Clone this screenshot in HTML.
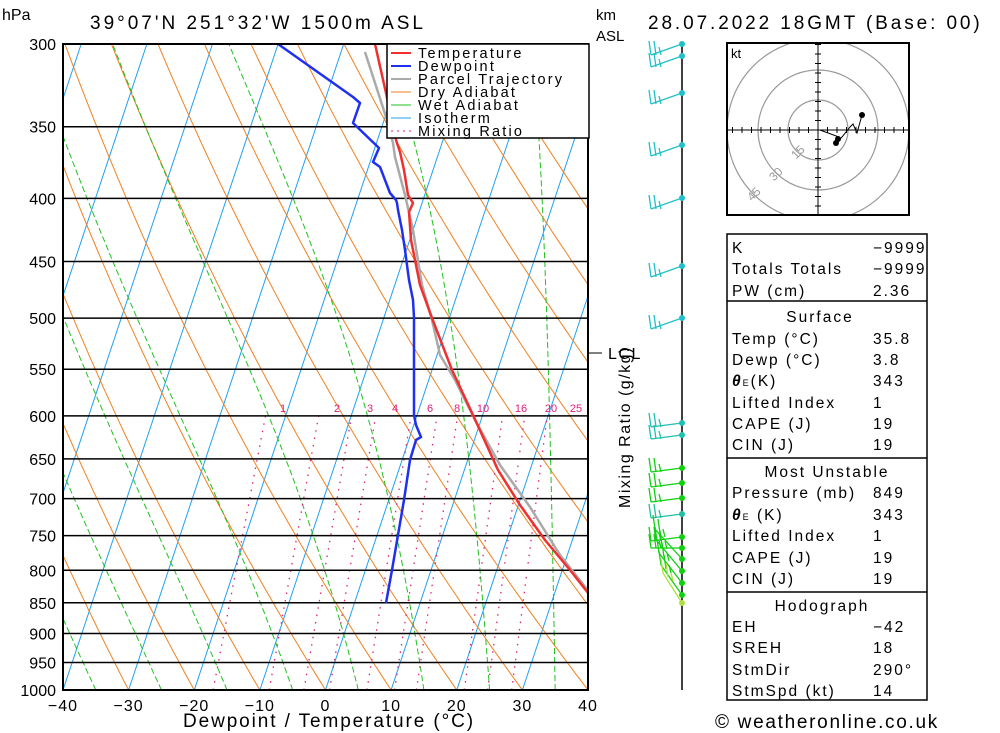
<!DOCTYPE html>
<html><head><meta charset="utf-8"><style>
html,body{margin:0;padding:0;background:#fff;}
svg{display:block;font-family:"Liberation Sans",sans-serif;}
</style></head><body>
<svg id="s" width="1000" height="733" viewBox="0 0 1000 733" xmlns="http://www.w3.org/2000/svg">
<defs><clipPath id="pc"><rect x="63" y="44" width="525" height="646"/></clipPath>
<clipPath id="hc"><rect x="728" y="44" width="180" height="170"/></clipPath></defs>
<g id="bg" clip-path="url(#pc)"></g>
<g id="grid"></g>
<g id="prof" clip-path="url(#pc)" fill="none" stroke-linejoin="round">
<polyline stroke="#aaa" stroke-width="2.5" points="590,593 560,555 530,507 500,465 475,420 455,380 440,355 432,320 422,285 413,230 405,195 395,157 393,143 387,120 365,52"/>
<polyline stroke="#f03030" stroke-width="2.5" points="592,598 570,570 545,540 520,505 498,470 473,415 452,370 432,318 420,285 411,240 409,212 413,203 408,195 404,170 400,152 396,140 386,93 375,44"/>
<polyline stroke="#2030f0" stroke-width="2.5" points="386,603 392,570 398,535 404,500 410,460 416,440 421,437 416,425 414,415 414,380 414,318 413,300 409,280 405,250 402,230 398,210 397,203 396,200 390,193 380,167 373,162 379,148 353,123 360,103 353,97 278,44"/>
</g>
<rect x="63" y="44" width="525" height="646" fill="none" stroke="#000" stroke-width="2"/>
<g>
<rect x="387" y="44" width="202" height="94" fill="#fff" stroke="#000" stroke-width="1.5"/>
<line x1="391" y1="53" x2="411" y2="53" stroke="#f03030" stroke-width="2"/>
<line x1="391" y1="66" x2="411" y2="66" stroke="#2030f0" stroke-width="2"/>
<line x1="391" y1="79" x2="411" y2="79" stroke="#aaa" stroke-width="2"/>
<line x1="391" y1="92" x2="411" y2="92" stroke="#f08020" stroke-width="1"/>
<line x1="391" y1="105" x2="411" y2="105" stroke="#20c020" stroke-width="1"/>
<line x1="391" y1="118" x2="411" y2="118" stroke="#20a0f0" stroke-width="1"/>
<line x1="391" y1="131" x2="411" y2="131" stroke="#e02080" stroke-width="1" stroke-dasharray="2,4"/>
<g font-size="14.5" fill="#000" letter-spacing="2.2">
<text x="418" y="58">Temperature</text><text x="418" y="71">Dewpoint</text><text x="418" y="84">Parcel Trajectory</text><text x="418" y="97">Dry Adiabat</text><text x="418" y="110">Wet Adiabat</text><text x="418" y="123">Isotherm</text><text x="418" y="136">Mixing Ratio</text>
</g></g>
<g font-size="16" fill="#000">
<text x="2" y="20">hPa</text>
<text x="90" y="29" font-size="19" letter-spacing="3">39°07'N  251°32'W  1500m  ASL</text>
<text x="596" y="20" font-size="15">km</text>
<text x="596" y="41" font-size="15">ASL</text>
<text x="648" y="29" font-size="19" letter-spacing="2.9">28.07.2022  18GMT  (Base: 00)</text>
<text x="183" y="727" font-size="19" letter-spacing="1.9">Dewpoint / Temperature (°C)</text>
<text x="0" y="0" font-size="16" letter-spacing="1.5" transform="translate(630,508) rotate(-90)">Mixing Ratio (g/kg)</text>
<text x="608" y="359" letter-spacing="1.5">LCL</text>
<text x="715" y="728" font-size="19" letter-spacing="1.7">© weatheronline.co.uk</text>
</g>
<line x1="589" y1="353" x2="602" y2="353" stroke="#000"/>
<g id="ptxt" font-size="16" text-anchor="end"></g>
<g id="ttxt" font-size="16" text-anchor="middle" letter-spacing="1"></g>
<g font-size="11" fill="#e0207a" text-anchor="middle">
<text x="283" y="412">1</text><text x="337" y="412">2</text><text x="370" y="412">3</text><text x="395" y="412">4</text><text x="430" y="412">6</text><text x="457" y="412">8</text><text x="483" y="412">10</text><text x="521" y="412">16</text><text x="551" y="412">20</text><text x="576" y="412">25</text>
</g>
<line x1="682" y1="44" x2="682" y2="690" stroke="#000" stroke-width="1.5"/>
<g id="barbs"></g>
<g>
<rect x="727" y="43" width="182" height="172" fill="#fff" stroke="#000" stroke-width="2"/>
<g clip-path="url(#hc)" fill="none" stroke="#999" stroke-width="1.2">
<circle cx="818" cy="130" r="30"/><circle cx="818" cy="130" r="60"/><circle cx="818" cy="130" r="91"/>
</g>
<line x1="728" y1="130" x2="908" y2="130" stroke="#000"/>
<line x1="818" y1="44" x2="818" y2="214" stroke="#000"/>
<g id="hticks" stroke="#000" clip-path="url(#hc)"></g>
<text x="731" y="58" font-size="13">kt</text>
<g font-size="12" fill="#999"><text x="792" y="158" transform="rotate(-45 796 154)">15</text><text x="770" y="180" transform="rotate(-45 774 176)">30</text><text x="748" y="200" transform="rotate(-45 752 196)">45</text></g>
<polyline fill="none" stroke="#000" points="820,130 839,137 836,143 842,137 850,127 853,124 857,133 862,115"/>
<circle cx="862" cy="115" r="3"/><circle cx="838" cy="139" r="3"/><circle cx="836" cy="143" r="3"/>
</g>
<g font-size="15.5" fill="#000" letter-spacing="2">
<rect x="727" y="234" width="200" height="466" fill="none" stroke="#000" stroke-width="1.5"/>
<line x1="727" y1="301" x2="927" y2="301" stroke="#000" stroke-width="1.5"/>
<line x1="727" y1="458" x2="927" y2="458" stroke="#000" stroke-width="1.5"/>
<line x1="727" y1="592" x2="927" y2="592" stroke="#000" stroke-width="1.5"/>
<text x="732" y="253">K</text><text x="873" y="253">−9999</text>
<text x="732" y="274">Totals Totals</text><text x="873" y="274">−9999</text>
<text x="732" y="296">PW (cm)</text><text x="873" y="296">2.36</text>
<text x="820" y="322" text-anchor="middle">Surface</text>
<text x="732" y="344">Temp (°C)</text><text x="873" y="344">35.8</text>
<text x="732" y="365">Dewp (°C)</text><text x="873" y="365">3.8</text>
<text x="732" y="386"><tspan font-style="italic" font-weight="bold">θ</tspan><tspan font-size="9">E</tspan>(K)</text><text x="873" y="386">343</text>
<text x="732" y="408">Lifted Index</text><text x="873" y="408">1</text>
<text x="732" y="429">CAPE (J)</text><text x="873" y="429">19</text>
<text x="732" y="450">CIN (J)</text><text x="873" y="450">19</text>
<text x="827" y="477" text-anchor="middle">Most Unstable</text>
<text x="732" y="498">Pressure (mb)</text><text x="873" y="498">849</text>
<text x="732" y="520"><tspan font-style="italic" font-weight="bold">θ</tspan><tspan font-size="9">E</tspan> (K)</text><text x="873" y="520">343</text>
<text x="732" y="541">Lifted Index</text><text x="873" y="541">1</text>
<text x="732" y="563">CAPE (J)</text><text x="873" y="563">19</text>
<text x="732" y="584">CIN (J)</text><text x="873" y="584">19</text>
<text x="822" y="611" text-anchor="middle">Hodograph</text>
<text x="732" y="632">EH</text><text x="873" y="632">−42</text>
<text x="732" y="653">SREH</text><text x="873" y="653">18</text>
<text x="732" y="675">StmDir</text><text x="873" y="675">290°</text>
<text x="732" y="696">StmSpd (kt)</text><text x="873" y="696">14</text>
</g>
</svg>
<script>
(function(){
var NS="http://www.w3.org/2000/svg";
function el(p,t,a){var e=document.createElementNS(NS,t);for(var k in a)e.setAttribute(k,a[k]);p.appendChild(e);return e;}
var L=Math.log(1000/300);
function Y(p){return 690-646*Math.log(1000/p)/L;}
function X(T,p){return 63+(T+40)*6.5625+0.333*(690-Y(p));}
var bg=document.getElementById('bg');
function line(pts,st,w,da){var s=pts.map(function(q){return q[0].toFixed(1)+','+q[1].toFixed(1)}).join(' ');var a={points:s,fill:'none',stroke:st,'stroke-width':w};if(da)a['stroke-dasharray']=da;el(bg,'polyline',a);}
for(var T=-140;T<=50;T+=10){line([[X(T,1000),690],[X(T,300),44]],'#20a0f0',1);}
for(var t0=-40;t0<=230;t0+=10){var pts=[];for(var p=1000;p>=295;p-=10){var T=(t0+273.15)*Math.pow(p/1000,0.286)-273.15;pts.push([X(T,p),Y(p)]);}line(pts,'#f08020',1);}
function es(T){return 6.112*Math.exp(17.67*T/(T+243.5));}
function dTdp(T,p){var Tk=T+273.15,e=es(T),r=0.622*e/(p-e),Lv=2.5e6,Rd=287,cp=1005;
 var num=(Rd*Tk+Lv*r)/p, den=cp+Lv*Lv*r*0.622/(Rd*Tk*Tk);return num/den;}
for(var t0=-35;t0<=45;t0+=10){var T=t0,pts=[[X(T,1000),690]];for(var p=1000;p>300;p-=5){T-=dTdp(T,p)*5;pts.push([X(T,p-5),Y(p-5)]);}line(pts,'#20c020',1,'6,3');}
[1,2,3,4,6,8,10,16,20,25].forEach(function(w){var pts=[];[1000,600].forEach(function(p){var e=w*p/(622+w),l=Math.log(e/6.112),Td=243.5*l/(17.67-l);pts.push([X(Td,p),Y(p)]);});line(pts,'#e0207a',1.3,'1.5,6');});
var g=document.getElementById('grid'),pt=document.getElementById('ptxt');
[300,350,400,450,500,550,600,650,700,750,800,850,900,950,1000].forEach(function(p){var y=Y(p);el(g,'line',{x1:63,x2:588,y1:y,y2:y,stroke:'#000','stroke-width':1.5});var t=el(pt,'text',{x:56,y:y+6});t.textContent=p;});
var tt=document.getElementById('ttxt');
for(var T=-40;T<=40;T+=10){var t=el(tt,'text',{x:63+(T+40)*6.5625,y:711});t.textContent=(T<0?'\u2212':'')+Math.abs(T);}
var ht=document.getElementById('hticks');
for(var i=-10;i<=10;i++){if(!i)continue;var d=i*9.5;el(ht,'line',{x1:818+d,x2:818+d,y1:127,y2:133});el(ht,'line',{x1:815,x2:821,y1:130+d,y2:130+d});}
var bb=document.getElementById('barbs');
var B=[[44,'#20c0c8'],[56,'#20c0c8'],[93,'#20c0c8'],[145,'#20c0c8'],[198,'#20c0c8'],[266,'#20c0c8'],[318,'#20c0c8'],[423,'#20c0b0'],[435,'#20c0b0'],[468,'#10d010'],[483,'#10d010'],[498,'#10d010'],[514,'#20c0a0'],[537,'#10d010'],[548,'#10d010'],[559,'#10d010'],[571,'#10d010'],[583,'#10d010'],[595,'#10d010'],[603,'#b0e040']];
B.forEach(function(b,i){var y=b[0],c=b[1];var ex=651,ey=y+(i<7?11:(i>=14?0:4));
 if(i>=15){ex=655+(i-15)*2;ey=y-30;}
 el(bb,'line',{x1:682,y1:y,x2:ex,y2:ey,stroke:c,'stroke-width':1.3});
 for(var k=0;k<3;k++){var bx=ex+k*5,by=ey-(i>=15?-k*4:0);el(bb,'line',{x1:bx,y1:by,x2:bx-2,y2:by-14+(k==2?6:0),stroke:c,'stroke-width':1.3});}
 el(bb,'circle',{cx:682,cy:y,r:3,fill:c});});
})();
</script>
</body></html>
